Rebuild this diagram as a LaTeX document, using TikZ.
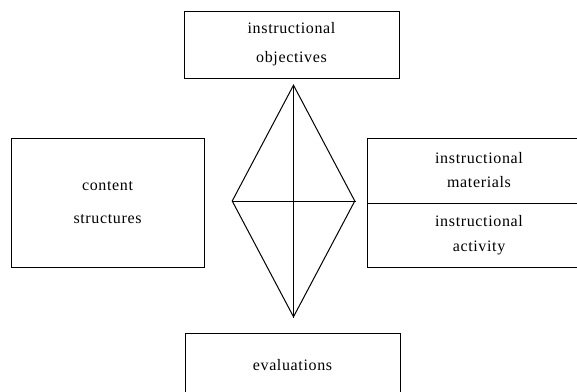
\documentclass[tikz,border=0pt]{standalone}
\usepackage{fontspec}
\newfontfamily\boxfont[LetterSpace=4]{Liberation Serif}
\usetikzlibrary{shapes.geometric}

\begin{document}
\begin{tikzpicture}[
			x=1pt, y=-1pt,
			line width=1pt,
			box/.style = {draw, rectangle, inner sep=0pt, align=center,
				font=\boxfont\fontsize{16}{29}\selectfont},
			kite/.style = {draw, diamond, inner sep=0pt,
				minimum width=123pt, minimum height=232pt}
		]
			\clip (0,0) rectangle (577,391);
			\node[box, minimum width=215pt, minimum height=67pt] (obj) at (291.5,44.5) {instructional\\objectives};
			\node[box, minimum width=193pt, minimum height=129pt, font=\boxfont\fontsize{16}{33}\selectfont] (cont) at (107.5,202.5) {content\\structures};
			\node[box, minimum width=224pt, minimum height=65pt, font=\boxfont\fontsize{16}{24}\selectfont] (mat) at (479,170.5) {instructional\\materials};
			\node[box, minimum width=224pt, minimum height=64pt, font=\boxfont\fontsize{16}{25}\selectfont] (act) at (479,235) {instructional\\activity};
			\node[box, minimum width=215pt, minimum height=64pt] (eval) at (292.5,365) {evaluations};
			\node[kite] (dia) at (293.5,201) {};
			\draw (dia.north) -- (dia.south);
			\draw (dia.west) -- (dia.east);
		\end{tikzpicture}
\end{document}
